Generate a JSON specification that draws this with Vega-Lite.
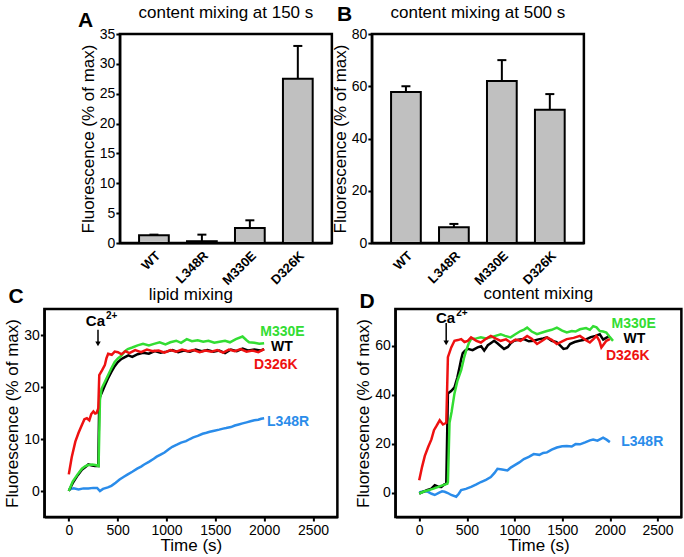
{
  "$schema": "https://vega.github.io/schema/vega-lite/v6.json",
  "padding": {"left": 2, "top": 2, "right": 0, "bottom": 0},
  "background": "white",
  "config": {
    "font": "Liberation Sans",
    "view": {"stroke": "black", "strokeWidth": 2.5},
    "axis": {"domainColor": "black", "domainWidth": 2, "tickColor": "black", "tickWidth": 2, "tickSize": 4, "labelColor": "black", "labelFontSize": 14, "labelPadding": 1, "titleFontSize": 17, "titleFontWeight": "normal", "titleColor": "black", "titlePadding": 2, "grid": false, "labelFont": "Liberation Sans", "titleFont": "Liberation Sans"},
    "title": {"fontSize": 17, "fontWeight": "normal", "color": "black", "font": "Liberation Sans"}
  },
  "datasets": {
    "bars150": [
      {"mutant": "WT", "mean": 1.3, "upper": 1.4},
      {"mutant": "L348R", "mean": 0.3, "upper": 1.4},
      {"mutant": "M330E", "mean": 2.5, "upper": 3.8},
      {"mutant": "D326K", "mean": 27.5, "upper": 33}
    ],
    "bars500": [
      {"mutant": "WT", "mean": 57.8, "upper": 60},
      {"mutant": "L348R", "mean": 6, "upper": 7.3},
      {"mutant": "M330E", "mean": 62, "upper": 70},
      {"mutant": "D326K", "mean": 51, "upper": 57}
    ],
    "lipid": [
      {"mutant": "L348R", "t": 0, "v": 0.3}, {"mutant": "L348R", "t": 50, "v": 0.5}, {"mutant": "L348R", "t": 100, "v": 0.3}, {"mutant": "L348R", "t": 150, "v": 0.5}, {"mutant": "L348R", "t": 200, "v": 0.5}, {"mutant": "L348R", "t": 250, "v": 0.6}, {"mutant": "L348R", "t": 290, "v": 0.6}, {"mutant": "L348R", "t": 319, "v": 0}, {"mutant": "L348R", "t": 350, "v": 0.4}, {"mutant": "L348R", "t": 400, "v": 0.7}, {"mutant": "L348R", "t": 436, "v": 1}, {"mutant": "L348R", "t": 480, "v": 1.6}, {"mutant": "L348R", "t": 520, "v": 2.2}, {"mutant": "L348R", "t": 560, "v": 2.7}, {"mutant": "L348R", "t": 604, "v": 3.2}, {"mutant": "L348R", "t": 650, "v": 3.7}, {"mutant": "L348R", "t": 700, "v": 4.3}, {"mutant": "L348R", "t": 740, "v": 4.7}, {"mutant": "L348R", "t": 772, "v": 5.1}, {"mutant": "L348R", "t": 820, "v": 5.6}, {"mutant": "L348R", "t": 870, "v": 6.2}, {"mutant": "L348R", "t": 900, "v": 6.6}, {"mutant": "L348R", "t": 940, "v": 7}, {"mutant": "L348R", "t": 980, "v": 7.4}, {"mutant": "L348R", "t": 1020, "v": 8}, {"mutant": "L348R", "t": 1060, "v": 8.5}, {"mutant": "L348R", "t": 1107, "v": 8.9}, {"mutant": "L348R", "t": 1150, "v": 9.3}, {"mutant": "L348R", "t": 1200, "v": 9.6}, {"mutant": "L348R", "t": 1240, "v": 10}, {"mutant": "L348R", "t": 1275, "v": 10.3}, {"mutant": "L348R", "t": 1320, "v": 10.6}, {"mutant": "L348R", "t": 1370, "v": 11}, {"mutant": "L348R", "t": 1410, "v": 11.2}, {"mutant": "L348R", "t": 1443, "v": 11.4}, {"mutant": "L348R", "t": 1490, "v": 11.6}, {"mutant": "L348R", "t": 1540, "v": 11.8}, {"mutant": "L348R", "t": 1580, "v": 12}, {"mutant": "L348R", "t": 1611, "v": 12.1}, {"mutant": "L348R", "t": 1660, "v": 12.3}, {"mutant": "L348R", "t": 1700, "v": 12.6}, {"mutant": "L348R", "t": 1740, "v": 12.8}, {"mutant": "L348R", "t": 1779, "v": 13}, {"mutant": "L348R", "t": 1820, "v": 13.2}, {"mutant": "L348R", "t": 1860, "v": 13.4}, {"mutant": "L348R", "t": 1900, "v": 13.6}, {"mutant": "L348R", "t": 1940, "v": 13.7}, {"mutant": "L348R", "t": 1970, "v": 13.9}, {"mutant": "L348R", "t": 2000, "v": 14},
      {"mutant": "WT", "t": 0, "v": 0}, {"mutant": "WT", "t": 40, "v": 1.5}, {"mutant": "WT", "t": 90, "v": 3}, {"mutant": "WT", "t": 134, "v": 4.1}, {"mutant": "WT", "t": 170, "v": 4.6}, {"mutant": "WT", "t": 200, "v": 5.1}, {"mutant": "WT", "t": 240, "v": 4.9}, {"mutant": "WT", "t": 268, "v": 4.8}, {"mutant": "WT", "t": 302, "v": 4.8}, {"mutant": "WT", "t": 312, "v": 17.8}, {"mutant": "WT", "t": 340, "v": 19}, {"mutant": "WT", "t": 369, "v": 20.3}, {"mutant": "WT", "t": 400, "v": 21.6}, {"mutant": "WT", "t": 436, "v": 22.9}, {"mutant": "WT", "t": 470, "v": 24}, {"mutant": "WT", "t": 503, "v": 24.8}, {"mutant": "WT", "t": 540, "v": 25.4}, {"mutant": "WT", "t": 570, "v": 25.7}, {"mutant": "WT", "t": 610, "v": 26.1}, {"mutant": "WT", "t": 650, "v": 25.8}, {"mutant": "WT", "t": 705, "v": 26.3}, {"mutant": "WT", "t": 760, "v": 26.6}, {"mutant": "WT", "t": 820, "v": 26.4}, {"mutant": "WT", "t": 880, "v": 26.9}, {"mutant": "WT", "t": 940, "v": 26.6}, {"mutant": "WT", "t": 1000, "v": 26.8}, {"mutant": "WT", "t": 1060, "v": 27.1}, {"mutant": "WT", "t": 1120, "v": 26.7}, {"mutant": "WT", "t": 1180, "v": 27}, {"mutant": "WT", "t": 1240, "v": 26.8}, {"mutant": "WT", "t": 1300, "v": 27.2}, {"mutant": "WT", "t": 1360, "v": 26.9}, {"mutant": "WT", "t": 1420, "v": 27.1}, {"mutant": "WT", "t": 1480, "v": 26.8}, {"mutant": "WT", "t": 1540, "v": 27}, {"mutant": "WT", "t": 1600, "v": 26.5}, {"mutant": "WT", "t": 1660, "v": 27.2}, {"mutant": "WT", "t": 1720, "v": 26.9}, {"mutant": "WT", "t": 1780, "v": 27.4}, {"mutant": "WT", "t": 1840, "v": 27}, {"mutant": "WT", "t": 1900, "v": 27.2}, {"mutant": "WT", "t": 1960, "v": 27}, {"mutant": "WT", "t": 2000, "v": 27.3},
      {"mutant": "M330E", "t": 0, "v": 0}, {"mutant": "M330E", "t": 40, "v": 1.8}, {"mutant": "M330E", "t": 90, "v": 3.2}, {"mutant": "M330E", "t": 134, "v": 4.3}, {"mutant": "M330E", "t": 170, "v": 4.8}, {"mutant": "M330E", "t": 200, "v": 5}, {"mutant": "M330E", "t": 240, "v": 5.1}, {"mutant": "M330E", "t": 270, "v": 5}, {"mutant": "M330E", "t": 305, "v": 4.8}, {"mutant": "M330E", "t": 319, "v": 17.5}, {"mutant": "M330E", "t": 336, "v": 19.7}, {"mutant": "M330E", "t": 370, "v": 21}, {"mutant": "M330E", "t": 403, "v": 22.3}, {"mutant": "M330E", "t": 436, "v": 23.6}, {"mutant": "M330E", "t": 470, "v": 24.8}, {"mutant": "M330E", "t": 503, "v": 25.5}, {"mutant": "M330E", "t": 537, "v": 26}, {"mutant": "M330E", "t": 570, "v": 26.8}, {"mutant": "M330E", "t": 604, "v": 27.3}, {"mutant": "M330E", "t": 650, "v": 27.6}, {"mutant": "M330E", "t": 705, "v": 28}, {"mutant": "M330E", "t": 760, "v": 28.3}, {"mutant": "M330E", "t": 820, "v": 28}, {"mutant": "M330E", "t": 872, "v": 28.3}, {"mutant": "M330E", "t": 930, "v": 28.6}, {"mutant": "M330E", "t": 990, "v": 28.2}, {"mutant": "M330E", "t": 1040, "v": 28.6}, {"mutant": "M330E", "t": 1100, "v": 28.9}, {"mutant": "M330E", "t": 1150, "v": 28.5}, {"mutant": "M330E", "t": 1208, "v": 29.2}, {"mutant": "M330E", "t": 1260, "v": 28.8}, {"mutant": "M330E", "t": 1320, "v": 29}, {"mutant": "M330E", "t": 1376, "v": 28.7}, {"mutant": "M330E", "t": 1430, "v": 28.9}, {"mutant": "M330E", "t": 1490, "v": 28.5}, {"mutant": "M330E", "t": 1544, "v": 28.7}, {"mutant": "M330E", "t": 1600, "v": 28.9}, {"mutant": "M330E", "t": 1650, "v": 28.6}, {"mutant": "M330E", "t": 1711, "v": 29.2}, {"mutant": "M330E", "t": 1779, "v": 29.7}, {"mutant": "M330E", "t": 1820, "v": 29}, {"mutant": "M330E", "t": 1846, "v": 28.6}, {"mutant": "M330E", "t": 1900, "v": 28.5}, {"mutant": "M330E", "t": 1950, "v": 28.3}, {"mutant": "M330E", "t": 2000, "v": 28.4},
      {"mutant": "D326K", "t": 0, "v": 3.2}, {"mutant": "D326K", "t": 30, "v": 6.5}, {"mutant": "D326K", "t": 67, "v": 9.5}, {"mutant": "D326K", "t": 100, "v": 11.2}, {"mutant": "D326K", "t": 134, "v": 12.7}, {"mutant": "D326K", "t": 160, "v": 13.8}, {"mutant": "D326K", "t": 185, "v": 14}, {"mutant": "D326K", "t": 210, "v": 13.6}, {"mutant": "D326K", "t": 230, "v": 14.8}, {"mutant": "D326K", "t": 252, "v": 15.3}, {"mutant": "D326K", "t": 270, "v": 14.9}, {"mutant": "D326K", "t": 285, "v": 15}, {"mutant": "D326K", "t": 302, "v": 15.9}, {"mutant": "D326K", "t": 312, "v": 22.3}, {"mutant": "D326K", "t": 340, "v": 23.2}, {"mutant": "D326K", "t": 369, "v": 24.2}, {"mutant": "D326K", "t": 385, "v": 25.5}, {"mutant": "D326K", "t": 403, "v": 26.4}, {"mutant": "D326K", "t": 440, "v": 26.2}, {"mutant": "D326K", "t": 470, "v": 26.8}, {"mutant": "D326K", "t": 503, "v": 26.7}, {"mutant": "D326K", "t": 540, "v": 26.3}, {"mutant": "D326K", "t": 580, "v": 26.9}, {"mutant": "D326K", "t": 620, "v": 26.5}, {"mutant": "D326K", "t": 680, "v": 27.1}, {"mutant": "D326K", "t": 740, "v": 26.7}, {"mutant": "D326K", "t": 800, "v": 27.2}, {"mutant": "D326K", "t": 860, "v": 26.9}, {"mutant": "D326K", "t": 920, "v": 27}, {"mutant": "D326K", "t": 980, "v": 26.6}, {"mutant": "D326K", "t": 1040, "v": 27.1}, {"mutant": "D326K", "t": 1100, "v": 26.8}, {"mutant": "D326K", "t": 1160, "v": 27.2}, {"mutant": "D326K", "t": 1220, "v": 26.9}, {"mutant": "D326K", "t": 1280, "v": 27.1}, {"mutant": "D326K", "t": 1340, "v": 26.7}, {"mutant": "D326K", "t": 1400, "v": 27}, {"mutant": "D326K", "t": 1460, "v": 26.8}, {"mutant": "D326K", "t": 1520, "v": 27.1}, {"mutant": "D326K", "t": 1580, "v": 26.6}, {"mutant": "D326K", "t": 1640, "v": 27.2}, {"mutant": "D326K", "t": 1700, "v": 26.9}, {"mutant": "D326K", "t": 1760, "v": 27.3}, {"mutant": "D326K", "t": 1820, "v": 26.8}, {"mutant": "D326K", "t": 1880, "v": 27}, {"mutant": "D326K", "t": 1940, "v": 26.7}, {"mutant": "D326K", "t": 2000, "v": 27.3}
    ],
    "content": [
      {"mutant": "L348R", "t": 0, "v": 0}, {"mutant": "L348R", "t": 45, "v": 0.5}, {"mutant": "L348R", "t": 93, "v": 0.3}, {"mutant": "L348R", "t": 130, "v": -0.5}, {"mutant": "L348R", "t": 163, "v": -1}, {"mutant": "L348R", "t": 210, "v": 0}, {"mutant": "L348R", "t": 240, "v": 0.5}, {"mutant": "L348R", "t": 267, "v": 0.3}, {"mutant": "L348R", "t": 300, "v": -0.2}, {"mutant": "L348R", "t": 336, "v": -1}, {"mutant": "L348R", "t": 388, "v": -1.7}, {"mutant": "L348R", "t": 415, "v": -0.5}, {"mutant": "L348R", "t": 440, "v": 1}, {"mutant": "L348R", "t": 490, "v": 1.5}, {"mutant": "L348R", "t": 544, "v": 2.3}, {"mutant": "L348R", "t": 600, "v": 3.3}, {"mutant": "L348R", "t": 647, "v": 4.3}, {"mutant": "L348R", "t": 700, "v": 5.2}, {"mutant": "L348R", "t": 751, "v": 6.3}, {"mutant": "L348R", "t": 790, "v": 8}, {"mutant": "L348R", "t": 821, "v": 9.7}, {"mutant": "L348R", "t": 870, "v": 9.4}, {"mutant": "L348R", "t": 925, "v": 9}, {"mutant": "L348R", "t": 960, "v": 10.2}, {"mutant": "L348R", "t": 994, "v": 11}, {"mutant": "L348R", "t": 1050, "v": 12.3}, {"mutant": "L348R", "t": 1098, "v": 13.7}, {"mutant": "L348R", "t": 1150, "v": 14.6}, {"mutant": "L348R", "t": 1201, "v": 15.7}, {"mutant": "L348R", "t": 1260, "v": 15.4}, {"mutant": "L348R", "t": 1300, "v": 16.2}, {"mutant": "L348R", "t": 1340, "v": 16.4}, {"mutant": "L348R", "t": 1390, "v": 17.5}, {"mutant": "L348R", "t": 1444, "v": 18.4}, {"mutant": "L348R", "t": 1500, "v": 18.9}, {"mutant": "L348R", "t": 1548, "v": 19}, {"mutant": "L348R", "t": 1600, "v": 18.8}, {"mutant": "L348R", "t": 1640, "v": 19.8}, {"mutant": "L348R", "t": 1686, "v": 19.7}, {"mutant": "L348R", "t": 1740, "v": 20.5}, {"mutant": "L348R", "t": 1790, "v": 21.3}, {"mutant": "L348R", "t": 1825, "v": 21.7}, {"mutant": "L348R", "t": 1870, "v": 21.2}, {"mutant": "L348R", "t": 1929, "v": 22.4}, {"mutant": "L348R", "t": 1965, "v": 21.6}, {"mutant": "L348R", "t": 2000, "v": 20.6},
      {"mutant": "WT", "t": 0, "v": -0.4}, {"mutant": "WT", "t": 40, "v": 0.3}, {"mutant": "WT", "t": 80, "v": 1}, {"mutant": "WT", "t": 128, "v": 1.6}, {"mutant": "WT", "t": 163, "v": 3}, {"mutant": "WT", "t": 200, "v": 2.4}, {"mutant": "WT", "t": 232, "v": 2.3}, {"mutant": "WT", "t": 260, "v": 3.2}, {"mutant": "WT", "t": 284, "v": 3.6}, {"mutant": "WT", "t": 301, "v": 40.5}, {"mutant": "WT", "t": 335, "v": 41.5}, {"mutant": "WT", "t": 370, "v": 43}, {"mutant": "WT", "t": 400, "v": 47}, {"mutant": "WT", "t": 422, "v": 51}, {"mutant": "WT", "t": 440, "v": 54.5}, {"mutant": "WT", "t": 457, "v": 57}, {"mutant": "WT", "t": 480, "v": 58}, {"mutant": "WT", "t": 509, "v": 58.7}, {"mutant": "WT", "t": 560, "v": 58.2}, {"mutant": "WT", "t": 613, "v": 59.3}, {"mutant": "WT", "t": 650, "v": 59.8}, {"mutant": "WT", "t": 682, "v": 58}, {"mutant": "WT", "t": 720, "v": 60.2}, {"mutant": "WT", "t": 750, "v": 61}, {"mutant": "WT", "t": 786, "v": 62}, {"mutant": "WT", "t": 820, "v": 61}, {"mutant": "WT", "t": 850, "v": 60}, {"mutant": "WT", "t": 890, "v": 58.7}, {"mutant": "WT", "t": 930, "v": 59.5}, {"mutant": "WT", "t": 960, "v": 61}, {"mutant": "WT", "t": 994, "v": 62}, {"mutant": "WT", "t": 1040, "v": 62.4}, {"mutant": "WT", "t": 1098, "v": 62.7}, {"mutant": "WT", "t": 1150, "v": 61.8}, {"mutant": "WT", "t": 1201, "v": 62}, {"mutant": "WT", "t": 1250, "v": 62.6}, {"mutant": "WT", "t": 1300, "v": 63}, {"mutant": "WT", "t": 1340, "v": 63.4}, {"mutant": "WT", "t": 1390, "v": 62}, {"mutant": "WT", "t": 1440, "v": 61.5}, {"mutant": "WT", "t": 1480, "v": 60}, {"mutant": "WT", "t": 1513, "v": 58.7}, {"mutant": "WT", "t": 1550, "v": 59}, {"mutant": "WT", "t": 1582, "v": 60.7}, {"mutant": "WT", "t": 1630, "v": 61.5}, {"mutant": "WT", "t": 1680, "v": 62}, {"mutant": "WT", "t": 1720, "v": 62.3}, {"mutant": "WT", "t": 1755, "v": 62.7}, {"mutant": "WT", "t": 1800, "v": 63.5}, {"mutant": "WT", "t": 1850, "v": 64}, {"mutant": "WT", "t": 1894, "v": 64.7}, {"mutant": "WT", "t": 1930, "v": 62.5}, {"mutant": "WT", "t": 1960, "v": 63.2}, {"mutant": "WT", "t": 2000, "v": 64},
      {"mutant": "M330E", "t": 0, "v": -0.4}, {"mutant": "M330E", "t": 50, "v": 0.4}, {"mutant": "M330E", "t": 100, "v": 1}, {"mutant": "M330E", "t": 150, "v": 1.6}, {"mutant": "M330E", "t": 200, "v": 2.3}, {"mutant": "M330E", "t": 250, "v": 3}, {"mutant": "M330E", "t": 295, "v": 3.6}, {"mutant": "M330E", "t": 301, "v": 4.3}, {"mutant": "M330E", "t": 318, "v": 28.5}, {"mutant": "M330E", "t": 340, "v": 33}, {"mutant": "M330E", "t": 370, "v": 40.5}, {"mutant": "M330E", "t": 400, "v": 45.5}, {"mutant": "M330E", "t": 440, "v": 50}, {"mutant": "M330E", "t": 470, "v": 55}, {"mutant": "M330E", "t": 492, "v": 58}, {"mutant": "M330E", "t": 520, "v": 61}, {"mutant": "M330E", "t": 544, "v": 62.7}, {"mutant": "M330E", "t": 600, "v": 63}, {"mutant": "M330E", "t": 647, "v": 63.4}, {"mutant": "M330E", "t": 700, "v": 63}, {"mutant": "M330E", "t": 751, "v": 63.4}, {"mutant": "M330E", "t": 800, "v": 64}, {"mutant": "M330E", "t": 855, "v": 64.7}, {"mutant": "M330E", "t": 900, "v": 64}, {"mutant": "M330E", "t": 959, "v": 63.4}, {"mutant": "M330E", "t": 1000, "v": 64.5}, {"mutant": "M330E", "t": 1063, "v": 66}, {"mutant": "M330E", "t": 1100, "v": 66.6}, {"mutant": "M330E", "t": 1132, "v": 67.4}, {"mutant": "M330E", "t": 1180, "v": 65.8}, {"mutant": "M330E", "t": 1236, "v": 64.7}, {"mutant": "M330E", "t": 1290, "v": 65.4}, {"mutant": "M330E", "t": 1340, "v": 66}, {"mutant": "M330E", "t": 1390, "v": 66.5}, {"mutant": "M330E", "t": 1444, "v": 67.4}, {"mutant": "M330E", "t": 1500, "v": 66.2}, {"mutant": "M330E", "t": 1548, "v": 65.4}, {"mutant": "M330E", "t": 1600, "v": 66}, {"mutant": "M330E", "t": 1640, "v": 65.8}, {"mutant": "M330E", "t": 1686, "v": 66.7}, {"mutant": "M330E", "t": 1750, "v": 67.2}, {"mutant": "M330E", "t": 1790, "v": 66.5}, {"mutant": "M330E", "t": 1825, "v": 68}, {"mutant": "M330E", "t": 1860, "v": 67.5}, {"mutant": "M330E", "t": 1894, "v": 66}, {"mutant": "M330E", "t": 1930, "v": 65.8}, {"mutant": "M330E", "t": 1963, "v": 65.4}, {"mutant": "M330E", "t": 2000, "v": 63.5}, {"mutant": "M330E", "t": 2033, "v": 62},
      {"mutant": "D326K", "t": 0, "v": 5}, {"mutant": "D326K", "t": 30, "v": 10.5}, {"mutant": "D326K", "t": 59, "v": 15}, {"mutant": "D326K", "t": 95, "v": 18.7}, {"mutant": "D326K", "t": 128, "v": 21.7}, {"mutant": "D326K", "t": 155, "v": 25.5}, {"mutant": "D326K", "t": 180, "v": 27.1}, {"mutant": "D326K", "t": 215, "v": 29.5}, {"mutant": "D326K", "t": 249, "v": 27.8}, {"mutant": "D326K", "t": 284, "v": 28.5}, {"mutant": "D326K", "t": 301, "v": 55.3}, {"mutant": "D326K", "t": 336, "v": 59.3}, {"mutant": "D326K", "t": 370, "v": 62}, {"mutant": "D326K", "t": 405, "v": 62.3}, {"mutant": "D326K", "t": 440, "v": 62.7}, {"mutant": "D326K", "t": 475, "v": 61.5}, {"mutant": "D326K", "t": 509, "v": 62}, {"mutant": "D326K", "t": 544, "v": 63.4}, {"mutant": "D326K", "t": 600, "v": 62}, {"mutant": "D326K", "t": 647, "v": 61.3}, {"mutant": "D326K", "t": 700, "v": 62.8}, {"mutant": "D326K", "t": 751, "v": 64}, {"mutant": "D326K", "t": 800, "v": 63}, {"mutant": "D326K", "t": 855, "v": 62}, {"mutant": "D326K", "t": 910, "v": 62.6}, {"mutant": "D326K", "t": 959, "v": 61.3}, {"mutant": "D326K", "t": 1010, "v": 62.5}, {"mutant": "D326K", "t": 1063, "v": 62}, {"mutant": "D326K", "t": 1132, "v": 64}, {"mutant": "D326K", "t": 1180, "v": 62.8}, {"mutant": "D326K", "t": 1236, "v": 60.7}, {"mutant": "D326K", "t": 1290, "v": 62}, {"mutant": "D326K", "t": 1340, "v": 63.4}, {"mutant": "D326K", "t": 1390, "v": 62.4}, {"mutant": "D326K", "t": 1444, "v": 60.7}, {"mutant": "D326K", "t": 1500, "v": 61.8}, {"mutant": "D326K", "t": 1548, "v": 62.7}, {"mutant": "D326K", "t": 1620, "v": 63.2}, {"mutant": "D326K", "t": 1686, "v": 64}, {"mutant": "D326K", "t": 1740, "v": 62.5}, {"mutant": "D326K", "t": 1790, "v": 61.3}, {"mutant": "D326K", "t": 1830, "v": 62.8}, {"mutant": "D326K", "t": 1859, "v": 64}, {"mutant": "D326K", "t": 1890, "v": 62}, {"mutant": "D326K", "t": 1911, "v": 59.3}, {"mutant": "D326K", "t": 1963, "v": 62}, {"mutant": "D326K", "t": 2000, "v": 62.7}
    ],
    "lipidLabels": [
      {"mutant": "M330E", "t": 1960, "v": 30.5},
      {"mutant": "WT", "t": 2071, "v": 27.7},
      {"mutant": "D326K", "t": 1897, "v": 24.3},
      {"mutant": "L348R", "t": 2030, "v": 13.3}
    ],
    "contentLabels": [
      {"mutant": "M330E", "t": 2018, "v": 68.8},
      {"mutant": "WT", "t": 2142, "v": 62.8},
      {"mutant": "D326K", "t": 1959, "v": 55.6},
      {"mutant": "L348R", "t": 2119, "v": 20.7}
    ],
    "lipidCa": [{"ion": "Ca", "charge": "2+", "tText": 330, "vText": 32.6, "tArrow": 299, "vTop": 31, "vTip": 28.3}],
    "contentCa": [{"ion": "Ca", "charge": "2+", "tText": 335, "vText": 71.5, "tArrow": 283, "vTop": 69.3, "vTip": 61.2}]
  },
  "spacing": -6,
  "center": true,
  "vconcat": [
    {
      "spacing": -4,
      "hconcat": [
        {
          "title": {"text": "A", "anchor": "start", "fontSize": 21, "fontWeight": "bold", "offset": -28, "dx": 0},
          "vconcat": [
            {
              "width": 212, "height": 209,
              "title": {"text": "content mixing at 150 s", "offset": 5},
              "data": {"name": "bars150"},
              "encoding": {
                "x": {"field": "mutant", "type": "nominal", "sort": null, "scale": {"paddingInner": 0.38, "paddingOuter": 0.4},
                  "axis": {"title": null, "ticks": false, "labelAngle": -45, "labelFontWeight": "bold", "labelFontSize": 13, "labelPadding": 6,
                    "encode": {"labels": {"update": {"fill": {"signal": "datum.value === 'L348R' ? '#2a8cea' : datum.value === 'M330E' ? '#33dd33' : datum.value === 'D326K' ? '#ee1111' : '#000000'"}}}}}}
              },
              "layer": [
                {"mark": {"type": "rule", "strokeWidth": 2, "color": "black"},
                 "encoding": {"y": {"field": "mean", "type": "quantitative", "title": "Fluorescence (% of max)", "scale": {"domain": [0, 35], "nice": false}, "axis": {"values": [0, 5, 10, 15, 20, 25, 30, 35], "labelOverlap": false}}, "y2": {"field": "upper"}}},
                {"mark": {"type": "bar", "fill": "#c0c0c0", "stroke": "black", "strokeWidth": 2},
                 "encoding": {"y": {"field": "mean", "type": "quantitative", "title": "Fluorescence (% of max)", "scale": {"domain": [0, 35], "nice": false}, "axis": {"values": [0, 5, 10, 15, 20, 25, 30, 35], "labelOverlap": false}}}},
                {"mark": {"type": "tick", "thickness": 2, "size": 9, "color": "black", "opacity": 1},
                 "encoding": {"y": {"field": "upper", "type": "quantitative", "title": "Fluorescence (% of max)", "scale": {"domain": [0, 35], "nice": false}, "axis": {"values": [0, 5, 10, 15, 20, 25, 30, 35], "labelOverlap": false}}}}
              ]
            }
          ]
        },
        {
          "title": {"text": "B", "anchor": "start", "fontSize": 21, "fontWeight": "bold", "offset": -22, "dx": 7},
          "vconcat": [
            {
              "width": 212, "height": 209,
              "title": {"text": "content mixing at 500 s", "offset": 5},
              "data": {"name": "bars500"},
              "encoding": {
                "x": {"field": "mutant", "type": "nominal", "sort": null, "scale": {"paddingInner": 0.38, "paddingOuter": 0.4},
                  "axis": {"title": null, "ticks": false, "labelAngle": -45, "labelFontWeight": "bold", "labelFontSize": 13, "labelPadding": 6,
                    "encode": {"labels": {"update": {"fill": {"signal": "datum.value === 'L348R' ? '#2a8cea' : datum.value === 'M330E' ? '#33dd33' : datum.value === 'D326K' ? '#ee1111' : '#000000'"}}}}}}
              },
              "resolve": {"scale": {"y": "independent"}, "axis": {"y": "independent"}},
              "layer": [
                {
                  "layer": [
                    {"mark": {"type": "rule", "strokeWidth": 2, "color": "black"},
                     "encoding": {"y": {"field": "mean", "type": "quantitative", "title": "Fluorescence (% of max)", "scale": {"domain": [0, 80], "nice": false}, "axis": {"orient": "left", "values": [0, 20, 40, 60, 80], "labelOverlap": false}}, "y2": {"field": "upper"}}},
                    {"mark": {"type": "bar", "fill": "#c0c0c0", "stroke": "black", "strokeWidth": 2},
                     "encoding": {"y": {"field": "mean", "type": "quantitative", "title": "Fluorescence (% of max)", "scale": {"domain": [0, 80], "nice": false}, "axis": {"orient": "left", "values": [0, 20, 40, 60, 80], "labelOverlap": false}}}}
                  ]
                },
                {"mark": {"type": "tick", "thickness": 2, "size": 9, "color": "black", "opacity": 1},
                 "encoding": {"y": {"field": "upper", "type": "quantitative", "scale": {"domain": [0, 80], "nice": false}, "axis": {"orient": "right", "labels": false, "ticks": false, "domain": false, "title": null, "minExtent": 22, "maxExtent": 22}}}}
              ]
            }
          ]
        }
      ]
    },
    {
      "spacing": 14,
      "hconcat": [
        {
          "title": {"text": "C", "anchor": "start", "fontSize": 21, "fontWeight": "bold", "offset": -22, "dx": 6},
          "vconcat": [
            {
              "width": 293, "height": 208,
              "title": {"text": "lipid mixing", "offset": 5},
              "layer": [
                {"data": {"name": "lipid"},
                 "mark": {"type": "line", "strokeWidth": 2.5, "clip": true},
                 "encoding": {
                   "x": {"field": "t", "type": "quantitative", "title": "Time (s)", "scale": {"domain": [-250, 2750], "nice": false}, "axis": {"values": [0, 500, 1000, 1500, 2000, 2500], "format": "d", "labelPadding": 2, "titlePadding": 0}},
                   "y": {"field": "v", "type": "quantitative", "title": "Fluorescence (% of max)", "scale": {"domain": [-5, 35], "nice": false}, "axis": {"values": [0, 10, 20, 30]}},
                   "color": {"field": "mutant", "type": "nominal", "scale": {"domain": ["L348R", "WT", "D326K", "M330E"], "range": ["#2a8cea", "#000000", "#ee1111", "#33dd33"]}, "legend": null}
                 }},
                {"data": {"name": "lipidLabels"},
                 "mark": {"type": "text", "align": "left", "baseline": "middle", "fontWeight": "bold", "fontSize": 14},
                 "encoding": {
                   "x": {"field": "t", "type": "quantitative"},
                   "y": {"field": "v", "type": "quantitative"},
                   "text": {"field": "mutant"},
                   "color": {"field": "mutant", "type": "nominal", "legend": null}
                 }},
                {"data": {"name": "lipidCa"},
                 "mark": {"type": "text", "align": "right", "baseline": "middle", "fontWeight": "bold", "fontSize": 15, "color": "black", "dx": 4},
                 "encoding": {"x": {"field": "tText", "type": "quantitative"}, "y": {"field": "vText", "type": "quantitative"}, "text": {"field": "ion"}}},
                {"data": {"name": "lipidCa"},
                 "mark": {"type": "text", "align": "left", "baseline": "middle", "fontWeight": "bold", "fontSize": 10, "color": "black", "dx": 5, "dy": -5},
                 "encoding": {"x": {"field": "tText", "type": "quantitative"}, "y": {"field": "vText", "type": "quantitative"}, "text": {"field": "charge"}}},
                {"data": {"name": "lipidCa"},
                 "mark": {"type": "rule", "strokeWidth": 1.5, "color": "black"},
                 "encoding": {"x": {"field": "tArrow", "type": "quantitative"}, "y": {"field": "vTop", "type": "quantitative"}, "y2": {"field": "vTip"}}},
                {"data": {"name": "lipidCa"},
                 "mark": {"type": "point", "shape": "triangle-down", "filled": true, "size": 30, "color": "black", "opacity": 1},
                 "encoding": {"x": {"field": "tArrow", "type": "quantitative"}, "y": {"field": "vTip", "type": "quantitative"}}}
              ]
            }
          ]
        },
        {
          "title": {"text": "D", "anchor": "start", "fontSize": 21, "fontWeight": "bold", "offset": -29, "dx": 6},
          "vconcat": [
            {
              "width": 286, "height": 208,
              "title": {"text": "content mixing", "offset": 5},
              "layer": [
                {"data": {"name": "content"},
                 "mark": {"type": "line", "strokeWidth": 2.5, "clip": true},
                 "encoding": {
                   "x": {"field": "t", "type": "quantitative", "title": "Time (s)", "scale": {"domain": [-250, 2750], "nice": false}, "axis": {"values": [0, 500, 1000, 1500, 2000, 2500], "format": "d", "labelPadding": 2, "titlePadding": 0}},
                   "y": {"field": "v", "type": "quantitative", "title": "Fluorescence (% of max)", "scale": {"domain": [-10, 75], "nice": false}, "axis": {"values": [0, 20, 40, 60]}},
                   "color": {"field": "mutant", "type": "nominal", "scale": {"domain": ["L348R", "WT", "D326K", "M330E"], "range": ["#2a8cea", "#000000", "#ee1111", "#33dd33"]}, "legend": null}
                 }},
                {"data": {"name": "contentLabels"},
                 "mark": {"type": "text", "align": "left", "baseline": "middle", "fontWeight": "bold", "fontSize": 14},
                 "encoding": {
                   "x": {"field": "t", "type": "quantitative"},
                   "y": {"field": "v", "type": "quantitative"},
                   "text": {"field": "mutant"},
                   "color": {"field": "mutant", "type": "nominal", "legend": null}
                 }},
                {"data": {"name": "contentCa"},
                 "mark": {"type": "text", "align": "right", "baseline": "middle", "fontWeight": "bold", "fontSize": 15, "color": "black", "dx": 4},
                 "encoding": {"x": {"field": "tText", "type": "quantitative"}, "y": {"field": "vText", "type": "quantitative"}, "text": {"field": "ion"}}},
                {"data": {"name": "contentCa"},
                 "mark": {"type": "text", "align": "left", "baseline": "middle", "fontWeight": "bold", "fontSize": 10, "color": "black", "dx": 5, "dy": -5},
                 "encoding": {"x": {"field": "tText", "type": "quantitative"}, "y": {"field": "vText", "type": "quantitative"}, "text": {"field": "charge"}}},
                {"data": {"name": "contentCa"},
                 "mark": {"type": "rule", "strokeWidth": 1.5, "color": "black"},
                 "encoding": {"x": {"field": "tArrow", "type": "quantitative"}, "y": {"field": "vTop", "type": "quantitative"}, "y2": {"field": "vTip"}}},
                {"data": {"name": "contentCa"},
                 "mark": {"type": "point", "shape": "triangle-down", "filled": true, "size": 30, "color": "black", "opacity": 1},
                 "encoding": {"x": {"field": "tArrow", "type": "quantitative"}, "y": {"field": "vTip", "type": "quantitative"}}}
              ]
            }
          ]
        }
      ]
    }
  ]
}
